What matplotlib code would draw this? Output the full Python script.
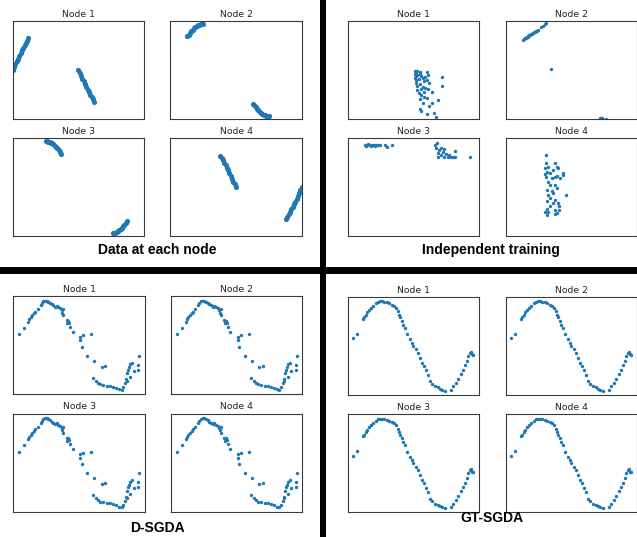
import matplotlib
matplotlib.use("Agg")
import matplotlib.pyplot as plt
from matplotlib.lines import Line2D

# ── Data (x, y in normalised units, no ticks shown) ───────────────────────────
# full curve sampled at the training points, split into 8 segments
DATA_X = [0.00, 0.01, 0.02, 0.03, 0.04, 0.05, 0.06, 0.07, 0.08, 0.09,
          0.10, 0.11, 0.12, 0.13, 0.14, 0.15, 0.16, 0.17, 0.18, 0.19,
          0.20, 0.21, 0.22, 0.23, 0.24, 0.25, 0.26, 0.27, 0.28, 0.29,
          0.30, 0.31, 0.32, 0.33, 0.34, 0.35, 0.36, 0.37, 0.38, 0.39,
          0.40, 0.41, 0.42, 0.43, 0.44, 0.45, 0.46, 0.47, 0.48, 0.49,
          0.50, 0.51, 0.52, 0.53, 0.54, 0.55, 0.56, 0.57, 0.58, 0.59,
          0.60, 0.61, 0.62, 0.63, 0.64, 0.65, 0.66, 0.67, 0.68, 0.69,
          0.70, 0.71, 0.72, 0.73, 0.74, 0.75, 0.76, 0.77, 0.78, 0.79,
          0.80, 0.81, 0.82, 0.83, 0.84, 0.85, 0.86, 0.87, 0.88, 0.89,
          0.90, 0.91, 0.92, 0.93, 0.94, 0.95, 0.96, 0.97, 0.98, 0.99, 1.00]
DATA_Y = [0.500, 0.530, 0.559, 0.588, 0.617, 0.645, 0.673, 0.700, 0.726, 0.752,
          0.776, 0.800, 0.822, 0.843, 0.862, 0.880, 0.897, 0.912, 0.925, 0.937,
          0.947, 0.955, 0.962, 0.966, 0.969, 0.970, 0.969, 0.966, 0.962, 0.955,
          0.947, 0.937, 0.925, 0.912, 0.897, 0.880, 0.862, 0.843, 0.822, 0.800,
          0.776, 0.752, 0.726, 0.700, 0.673, 0.645, 0.617, 0.588, 0.559, 0.530,
          0.500, 0.470, 0.441, 0.412, 0.383, 0.355, 0.327, 0.300, 0.274, 0.248,
          0.224, 0.200, 0.178, 0.157, 0.138, 0.120, 0.103, 0.088, 0.075, 0.063,
          0.053, 0.045, 0.038, 0.034, 0.031, 0.030, 0.031, 0.034, 0.038, 0.045,
          0.053, 0.063, 0.075, 0.088, 0.103, 0.120, 0.138, 0.157, 0.178, 0.200,
          0.224, 0.248, 0.274, 0.300, 0.327, 0.355, 0.383, 0.412, 0.441, 0.470, 0.500]
# index ranges (start, stop) of the two segments held by each node
NODE_SEGMENTS = [[(0, 13), (50, 63)],
                 [(13, 26), (63, 76)],
                 [(25, 38), (76, 88)],
                 [(38, 51), (88, 101)]]

# independent training – outputs of each node's own generator
IND1_X = [0.51, 0.52, 0.53, 0.55, 0.51, 0.52, 0.53, 0.55, 0.56, 0.51, 0.52, 0.54,
          0.57, 0.59, 0.60, 0.58, 0.52, 0.53, 0.55, 0.57, 0.56, 0.59, 0.61, 0.53,
          0.54, 0.56, 0.55, 0.57, 0.58, 0.60, 0.64, 0.69, 0.64, 0.62, 0.60, 0.66,
          0.67, 0.72, 0.72, 0.55, 0.56, 0.58, 0.62, 0.61, 0.60]
IND1_Y = [0.49, 0.48, 0.49, 0.48, 0.46, 0.44, 0.45, 0.46, 0.44, 0.42, 0.40, 0.41,
          0.42, 0.43, 0.40, 0.38, 0.36, 0.33, 0.35, 0.32, 0.30, 0.31, 0.30, 0.29,
          0.26, 0.24, 0.20, 0.16, 0.22, 0.21, 0.27, 0.19, 0.16, 0.13, 0.05, 0.06,
          0.02, 0.43, 0.33, 0.10, 0.08, 0.27, 0.36, 0.45, 0.48]
IND2_X = [0.133, 0.140, 0.147, 0.153, 0.160, 0.167, 0.173, 0.180, 0.187, 0.193,
          0.200, 0.207, 0.214, 0.221, 0.228, 0.235, 0.245, 0.270, 0.282, 0.300,
          0.306, 0.145, 0.170, 0.195, 0.342, 0.714, 0.732, 0.765]
IND2_Y = [0.807, 0.812, 0.820, 0.825, 0.830, 0.838, 0.843, 0.850, 0.856, 0.862,
          0.868, 0.875, 0.880, 0.887, 0.893, 0.900, 0.908, 0.935, 0.946, 0.968,
          0.975, 0.822, 0.846, 0.868, 0.510, 0.005, 0.005, 0.002]
IND3_X = [0.131, 0.145, 0.156, 0.168, 0.181, 0.195, 0.207, 0.220, 0.232, 0.244,
          0.140, 0.175, 0.210, 0.282, 0.300, 0.338,
          0.665, 0.680, 0.673, 0.698, 0.685, 0.710, 0.735, 0.761, 0.786, 0.723,
          0.735, 0.710, 0.690, 0.748, 0.773, 0.798, 0.819, 0.819, 0.927]
IND3_Y = [0.930, 0.928, 0.931, 0.927, 0.930, 0.926, 0.929, 0.925, 0.928, 0.926,
          0.918, 0.917, 0.918, 0.926, 0.909, 0.926,
          0.926, 0.943, 0.892, 0.875, 0.842, 0.825, 0.808, 0.798, 0.801, 0.859,
          0.886, 0.899, 0.808, 0.832, 0.825, 0.808, 0.869, 0.798, 0.798]
IND4_X = [0.306, 0.306, 0.324, 0.375, 0.388, 0.401, 0.362, 0.311, 0.337, 0.375,
          0.388, 0.434, 0.439, 0.413, 0.306, 0.324, 0.337, 0.375, 0.388, 0.311,
          0.349, 0.362, 0.324, 0.459, 0.337, 0.375, 0.311, 0.362, 0.401, 0.337,
          0.408, 0.311, 0.375, 0.408, 0.298, 0.311, 0.375, 0.388, 0.319, 0.349,
          0.298, 0.298]
IND4_Y = [0.824, 0.739, 0.705, 0.739, 0.705, 0.688, 0.671, 0.654, 0.637, 0.603,
          0.610, 0.637, 0.620, 0.593, 0.603, 0.553, 0.519, 0.519, 0.485, 0.468,
          0.458, 0.434, 0.417, 0.417, 0.383, 0.366, 0.349, 0.332, 0.332, 0.298,
          0.298, 0.275, 0.264, 0.264, 0.241, 0.214, 0.220, 0.231, 0.241, 0.586,
          0.627, 0.688]

# D-SGDA generator output (same on every node)
DSGDA_X = [0.046, 0.081, 0.114, 0.122, 0.132, 0.144, 0.157, 0.165, 0.185, 0.208,
           0.215, 0.228, 0.241, 0.253, 0.266, 0.278, 0.291, 0.304, 0.316, 0.329,
           0.342, 0.354, 0.367, 0.380, 0.372, 0.380, 0.405, 0.418, 0.425, 0.410,
           0.430, 0.451, 0.506, 0.511, 0.532, 0.590, 0.519, 0.562, 0.615, 0.671,
           0.701, 0.608, 0.628, 0.646, 0.663, 0.684, 0.714, 0.734, 0.759, 0.780,
           0.805, 0.823, 0.835, 0.848, 0.856, 0.866, 0.873, 0.881, 0.891, 0.906,
           0.916, 0.949, 0.949, 0.957, 0.886, 0.861]
DSGDA_Y = [0.612, 0.677, 0.738, 0.762, 0.782, 0.806, 0.823, 0.840, 0.864, 0.908,
           0.925, 0.946, 0.952, 0.952, 0.942, 0.932, 0.918, 0.908, 0.891, 0.898,
           0.884, 0.874, 0.857, 0.864, 0.830, 0.806, 0.755, 0.748, 0.728, 0.721,
           0.687, 0.636, 0.585, 0.551, 0.602, 0.612, 0.483, 0.388, 0.337, 0.279,
           0.289, 0.167, 0.136, 0.116, 0.102, 0.092, 0.085, 0.082, 0.075, 0.065,
           0.048, 0.041, 0.068, 0.109, 0.150, 0.211, 0.245, 0.272, 0.306, 0.320,
           0.238, 0.245, 0.296, 0.391, 0.177, 0.136]

# GT-SGDA generator output (same on every node)
GTSGDA_X = [0.043, 0.068, 0.119, 0.127, 0.137, 0.149, 0.162, 0.177, 0.195, 0.213,
            0.228, 0.246, 0.263, 0.278, 0.296, 0.314, 0.334, 0.349, 0.365, 0.380,
            0.390, 0.397, 0.410, 0.423, 0.435, 0.448, 0.473, 0.486, 0.499, 0.516,
            0.532, 0.549, 0.567, 0.582, 0.592, 0.608, 0.625, 0.643, 0.663, 0.684,
            0.701, 0.719, 0.739, 0.785, 0.803, 0.820, 0.841, 0.861, 0.878, 0.891,
            0.904, 0.916, 0.929, 0.942, 0.954, 0.937]
GTSGDA_Y = [0.575, 0.623, 0.771, 0.788, 0.815, 0.839, 0.863, 0.884, 0.908, 0.932,
            0.945, 0.952, 0.952, 0.949, 0.942, 0.932, 0.918, 0.904, 0.884, 0.849,
            0.815, 0.788, 0.753, 0.712, 0.685, 0.616, 0.565, 0.531, 0.497, 0.462,
            0.428, 0.377, 0.325, 0.291, 0.247, 0.205, 0.137, 0.110, 0.086, 0.075,
            0.062, 0.051, 0.041, 0.051, 0.086, 0.120, 0.164, 0.212, 0.257, 0.301,
            0.342, 0.394, 0.428, 0.411, 0.404, 0.438]

NODE_TITLES = ["Node 1", "Node 2", "Node 3", "Node 4"]
CAPTIONS = ["Data at each node", "Independent training", "D-SGDA", "GT-SGDA"]

BLUE = "#1f77b4"
W, H = 637, 537

fig = plt.figure(figsize=(W / 100, H / 100), dpi=100, facecolor="white")


def px_axes(left, top, width, height):
    """Axes from pixel box (top-left origin)."""
    ax = fig.add_axes([left / W, 1 - (top + height) / H, width / W, height / H])
    ax.set_xlim(0, 1)
    ax.set_ylim(0, 1)
    ax.set_xticks([])
    ax.set_yticks([])
    for sp in ax.spines.values():
        sp.set_linewidth(0.8)
        sp.set_edgecolor("#3a3a3a")
    return ax


# quadrant grids: column lefts, row tops (pixels)
QUADS = [
    ([12.7, 170.3], [21.0, 138.3]),
    ([347.7, 505.7], [20.7, 137.7]),
    ([13.3, 171.0], [296.0, 413.5]),
    ([347.7, 505.7], [296.7, 414.0]),
]
AX_W, AX_H = 131.5, 98.0

IND_DATA = [(IND1_X, IND1_Y), (IND2_X, IND2_Y), (IND3_X, IND3_Y), (IND4_X, IND4_Y)]

for q, (lefts, tops) in enumerate(QUADS):
    for i in range(4):
        ax = px_axes(lefts[i % 2], tops[i // 2], AX_W, AX_H)
        ax.set_title(NODE_TITLES[i], fontsize=6.7, color="#222222", pad=3)
        if q == 0:
            for a, b in NODE_SEGMENTS[i]:
                ax.scatter(DATA_X[a:b], DATA_Y[a:b], s=14, color=BLUE, linewidths=0)
        elif q == 1:
            xs, ys = IND_DATA[i]
            ax.scatter(xs, ys, s=6, color=BLUE, linewidths=0)
        elif q == 2:
            ax.scatter(DSGDA_X, DSGDA_Y, s=6, color=BLUE, linewidths=0)
        else:
            ax.scatter(GTSGDA_X, GTSGDA_Y, s=6, color=BLUE, linewidths=0)

# captions
CAP_POS = [(157, 250), (491, 250), (157, 528), (491.5, 518)]
for txt, (cx, cy) in zip(CAPTIONS, CAP_POS):
    fig.text(cx / W, 1 - cy / H, txt, ha="center", va="center",
             fontsize=10, fontweight="bold", family="Liberation Sans")

# thick separators
fig.add_artist(Line2D([0, 1], [1 - 270 / H, 1 - 270 / H], transform=fig.transFigure,
                      color="black", lw=5))
fig.add_artist(Line2D([323 / W, 323 / W], [0, 1], transform=fig.transFigure,
                      color="black", lw=4.3))

fig.savefig("out.png", dpi=100)
